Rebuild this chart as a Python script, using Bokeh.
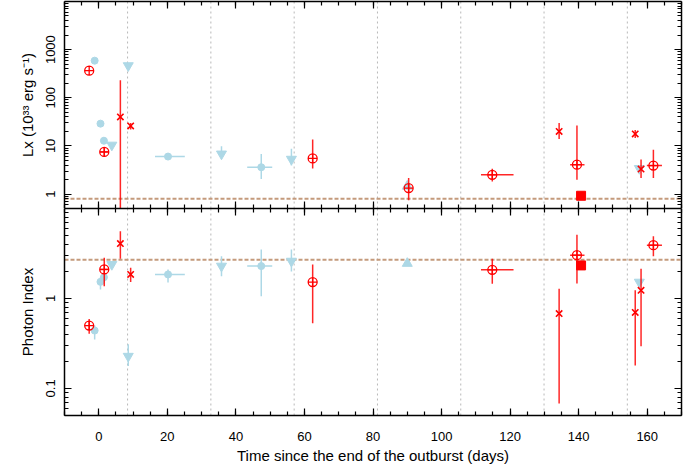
import math
from bokeh.plotting import figure
from bokeh.layouts import column
from bokeh.models import (Span, FixedTicker, LinearAxis, LogAxis, Range1d,
                          SingleIntervalTicker, CustomJSTickFormatter)
from bokeh.embed import file_html
from bokeh.resources import INLINE

nan = float("nan")

# ---------------- data ----------------
# red open circles with cross
xmm_t = [-2.8, 1.6, 62.4, 90.4, 114.8, 139.5, 161.8]
xmm_t_lo = [-2.8, 0.4, 62.4, 90.4, 111.5, 137.5, 159.9]
xmm_t_hi = [-2.8, 2.9, 62.4, 90.4, 121.0, 141.7, 164.3]
xmm_lx = [366, 7.5, 5.5, 1.33, 2.5, 4.07, 3.9]
xmm_lx_lo = [366, 6.0, 3.4, 0.74, 1.83, 1.98, 2.15]
xmm_lx_hi = [366, 9.5, 13.5, 2.15, 3.36, 26.6, 8.3]
xmm_pi = [0.50, 2.1, 1.52, nan, 2.08, 3.03, 3.91]
xmm_pi_lo = [0.405, 1.37, 0.53, nan, 1.46, 1.47, 2.95]
xmm_pi_hi = [0.59, 2.83, 2.39, nan, 2.76, 5.1, 4.93]

# red crosses
cx_t = [6.3, 9.3, 134.3, 156.5, 158.2]
cx_lx = [40, 26, 20, 17.7, 3.3]
cx_lx_lo = [0.3, 22, 13.9, 14.5, 2.15]
cx_lx_hi = [230, 30, 29.9, 21.5, 5.2]
cx_pi = [4.08, 1.85, 0.68, 0.70, 1.23]
cx_pi_lo = [2.76, 1.52, 0.068, 0.18, 0.295]
cx_pi_hi = [5.6, 2.19, 1.28, 1.23, 2.14]

# red square
sq_t = [140.7]
sq_lx = [0.92]
sq_pi = [2.33]

# light blue filled circles
sw_t = [-1.2, 0.5, 1.5, 20.2, 47.4]
sw_t_lo = [-1.2, 0.5, 1.5, 16.4, 43.3]
sw_t_hi = [-1.2, 0.5, 1.5, 25.1, 50.6]
sw_lx = [590, 29, 12.8, 6.0, 3.6]
sw_lx_lo = [590, 29, 12.8, 6.0, 2.05]
sw_lx_hi = [590, 29, 12.8, 6.0, 6.8]
sw_pi = [0.44, 1.53, 1.72, 1.85, 2.29]
sw_pi_lo = [0.35, 1.26, 1.5, 1.5, 1.06]
sw_pi_hi = [0.50, 1.71, 1.9, 2.1, 3.5]

# light blue downward triangles
td_t = [3.8, 8.6, 35.8, 56.2, 157.7]
td_lx = [10.4, 465, 6.8, 5.3, 3.4]
td_lx_lo = [10.4, 465, 6.8, 3.9, 3.4]
td_lx_hi = [10.4, 465, 9.8, 8.7, 3.4]
td_pi = [2.39, 0.228, 2.29, 2.6, 1.52]
td_pi_lo = [2.39, 0.177, 1.77, 2.0, 1.52]
td_pi_hi = [2.39, 0.31, 2.95, 3.5, 1.52]

# light blue upward triangle
tu_t = [90.0]
tu_lx = [1.45]
tu_pi = [2.45]

# reference lines
orbit_days = [8.4, 32.7, 57.0, 81.3, 105.6, 129.9, 154.2]
lx_level = 0.8
pi_level = 2.7

# tick values
top_major = [1, 10, 100, 1000]
bot_major = [0.1, 1]

RED = "#ff0000"
BLUE = "#add8e6"
FONT = "Liberation Sans"


def log_minors(lo, hi):
    out = []
    for k in range(-3, 5):
        for m in range(2, 10):
            v = m * 10 ** k
            if lo <= v <= hi:
                out.append(v)
    return out


fmt = CustomJSTickFormatter(code="return String(tick)")
blank = CustomJSTickFormatter(code="return ''")
xr = Range1d(-10, 170)


def style_axis(ax, labels):
    ax.axis_line_width = 1.5
    ax.axis_line_color = "black"
    ax.major_tick_in = 7
    ax.major_tick_out = 0
    ax.minor_tick_in = 4
    ax.minor_tick_out = 0
    ax.major_tick_line_width = 1.2
    ax.minor_tick_line_width = 1.2
    ax.major_label_text_font = FONT
    ax.axis_label_text_font = FONT
    ax.axis_label_text_font_style = "normal"
    ax.major_label_text_color = "black"
    ax.axis_label_text_color = "black"
    if labels:
        ax.major_label_text_font_size = "13px"
        ax.axis_label_text_font_size = "15px"
    else:
        ax.formatter = blank
        ax.major_label_text_font_size = "1px"
        ax.major_label_standoff = 0


def make_panel(yr, ymajor, yminor, ylabel, frame_h, border_top, border_bottom, xlabels):
    p = figure(frame_width=617, frame_height=frame_h, x_range=xr, y_range=yr,
               y_axis_type="log", output_backend="svg", toolbar_location=None,
               min_border_left=64, min_border_right=8,
               min_border_top=border_top, min_border_bottom=border_bottom)
    p.xgrid.visible = False
    p.ygrid.visible = False
    p.outline_line_color = None
    p.background_fill_color = "white"

    yt = FixedTicker(ticks=ymajor, minor_ticks=yminor)
    xt = SingleIntervalTicker(interval=20, num_minor_ticks=4)

    ly = p.yaxis[0]
    ly.ticker = yt
    ly.formatter = fmt
    style_axis(ly, True)
    ly.axis_label = ylabel
    ly.major_label_orientation = "vertical"
    ly.major_label_standoff = 9
    ly.axis_label_standoff = 8

    bx = p.xaxis[0]
    bx.ticker = xt
    style_axis(bx, xlabels)
    if xlabels:
        bx.axis_label = "Time since the end of the outburst (days)"
        bx.major_label_standoff = 16
        bx.axis_label_standoff = 3

    ry = LogAxis(ticker=yt)
    style_axis(ry, False)
    p.add_layout(ry, "right")
    tx = LinearAxis(ticker=xt)
    style_axis(tx, False)
    p.add_layout(tx, "above")

    for d in orbit_days:
        p.add_layout(Span(location=d, dimension="height", line_color="#b8b8b8",
                          line_dash="2 3", line_width=1, level="underlay"))
    return p


top = make_panel(Range1d(0.5, 10000), top_major, log_minors(0.5, 10000),
                 "Lx (10³³ erg s⁻¹)", 207, 1, 0, False)
bot = make_panel(Range1d(0.05, 10), bot_major, log_minors(0.05, 10),
                 "Photon Index", 207, 0, 0, True)

top.add_layout(Span(location=lx_level, dimension="width", line_color="#c49a7c",
                    line_dash="4 2", line_width=2, level="underlay"))
bot.add_layout(Span(location=pi_level, dimension="width", line_color="#c49a7c",
                    line_dash="4 2", line_width=2, level="underlay"))

# ---------------- top panel ----------------
top.segment(x0=sw_t_lo, y0=sw_lx, x1=sw_t_hi, y1=sw_lx, line_color=BLUE, line_width=1.5)
top.segment(x0=sw_t, y0=sw_lx_lo, x1=sw_t, y1=sw_lx_hi, line_color=BLUE, line_width=1.5)
top.segment(x0=td_t, y0=td_lx_lo, x1=td_t, y1=td_lx_hi, line_color=BLUE, line_width=1.5)
top.scatter(sw_t, sw_lx, marker="circle", size=7, fill_color=BLUE, line_color=BLUE)
top.scatter(td_t, td_lx, marker="inverted_triangle", size=10, fill_color=BLUE, line_color=BLUE)
top.scatter(tu_t, tu_lx, marker="triangle", size=10, fill_color=BLUE, line_color=BLUE)

top.segment(x0=xmm_t_lo, y0=xmm_lx, x1=xmm_t_hi, y1=xmm_lx, line_color=RED, line_width=1.5, line_alpha=0.85)
top.segment(x0=xmm_t, y0=xmm_lx_lo, x1=xmm_t, y1=xmm_lx_hi, line_color=RED, line_width=1.5, line_alpha=0.85)
top.segment(x0=cx_t, y0=cx_lx_lo, x1=cx_t, y1=cx_lx_hi, line_color=RED, line_width=1.5, line_alpha=0.85)
top.scatter(xmm_t, xmm_lx, marker="circle_cross", size=9, fill_color=None, line_color=RED, line_width=1.3)
top.scatter(cx_t, cx_lx, marker="x", size=9, line_color=RED, line_width=1.6)
top.scatter(sq_t, sq_lx, marker="square", size=9, fill_color=RED, line_color=RED)

# ---------------- bottom panel ----------------
bot.segment(x0=sw_t_lo, y0=sw_pi, x1=sw_t_hi, y1=sw_pi, line_color=BLUE, line_width=1.5)
bot.segment(x0=sw_t, y0=sw_pi_lo, x1=sw_t, y1=sw_pi_hi, line_color=BLUE, line_width=1.5)
bot.segment(x0=td_t, y0=td_pi_lo, x1=td_t, y1=td_pi_hi, line_color=BLUE, line_width=1.5)
bot.scatter(sw_t, sw_pi, marker="circle", size=7, fill_color=BLUE, line_color=BLUE)
bot.scatter(td_t, td_pi, marker="inverted_triangle", size=10, fill_color=BLUE, line_color=BLUE)
bot.scatter(tu_t, tu_pi, marker="triangle", size=10, fill_color=BLUE, line_color=BLUE)

bot.segment(x0=xmm_t_lo, y0=xmm_pi, x1=xmm_t_hi, y1=xmm_pi, line_color=RED, line_width=1.5, line_alpha=0.85)
bot.segment(x0=xmm_t, y0=xmm_pi_lo, x1=xmm_t, y1=xmm_pi_hi, line_color=RED, line_width=1.5, line_alpha=0.85)
bot.segment(x0=cx_t, y0=cx_pi_lo, x1=cx_t, y1=cx_pi_hi, line_color=RED, line_width=1.5, line_alpha=0.85)
bot.scatter(xmm_t, xmm_pi, marker="circle_cross", size=9, fill_color=None, line_color=RED, line_width=1.3)
bot.scatter(cx_t, cx_pi, marker="x", size=9, line_color=RED, line_width=1.6)
bot.scatter(sq_t, sq_pi, marker="square", size=9, fill_color=RED, line_color=RED)

layout = column(top, bot, spacing=0)
open("out.html", "w").write(file_html(layout, INLINE))
